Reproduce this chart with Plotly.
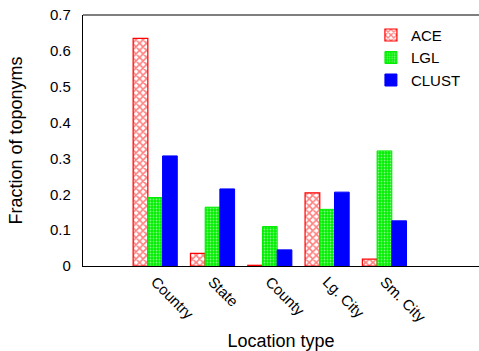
import plotly.graph_objects as go

categories = ["Country", "State", "County", "Lg. City", "Sm. City"]
ace = [0.635, 0.035, 0.002, 0.204, 0.019]
lgl = [0.191, 0.164, 0.110, 0.158, 0.321]
clust = [0.307, 0.215, 0.045, 0.206, 0.126]
y_ticks = [0, 0.1, 0.2, 0.3, 0.4, 0.5, 0.6, 0.7]

font = "Liberation Sans, Arial, Helvetica, sans-serif"

fig = go.Figure()
fig.add_trace(go.Bar(
    name="ACE", x=categories, y=ace,
    marker=dict(color="white", line=dict(color="#ff0000", width=1.2),
                pattern=dict(shape="x", fgcolor="#ff0000", bgcolor="white",
                             size=5, solidity=0.55)),
))
fig.add_trace(go.Bar(
    name="LGL", x=categories, y=lgl,
    marker=dict(color="#00ee00", line=dict(color="#00ee00", width=1),
                pattern=dict(shape=".", fgcolor="white", bgcolor="#00ee00",
                             size=3, solidity=0.3)),
))
fig.add_trace(go.Bar(
    name="CLUST", x=categories, y=clust,
    marker=dict(color="#0000ff", line=dict(color="#0000ff", width=1)),
))

fig.update_layout(
    width=479, height=351,
    margin=dict(l=83, r=0, t=15, b=85, autoexpand=False),
    paper_bgcolor="white", plot_bgcolor="white",
    barmode="group", bargap=0.23, bargroupgap=0,
    font=dict(family=font, size=15, color="black"),
    showlegend=True,
    legend=dict(x=0.967, y=0.985, xanchor="right", yanchor="top",
                font=dict(size=15), bgcolor="rgba(0,0,0,0)",
                tracegroupgap=0, itemwidth=30),
    xaxis=dict(
        type="category", range=[-1.26, 5.65], automargin=False,
        tickangle=45, showline=True, linecolor="black", linewidth=1.2,
        showgrid=False, zeroline=False, ticks="",
        title=dict(text="Location type", standoff=16),
        tickfont=dict(size=15),
    ),
    yaxis=dict(
        range=[0, 0.7], tickvals=y_ticks, automargin=False,
        ticktext=[("%g" % v) for v in y_ticks],
        showline=True, linecolor="black", linewidth=1.2,
        showgrid=False, zeroline=False, ticks="",
        ticklabelstandoff=8,
        title=dict(text="Fraction of toponyms", standoff=22),
        tickfont=dict(size=15),
    ),
    shapes=[dict(type="line", xref="paper", yref="paper", x0=0, x1=1, y0=1, y1=1,
                 line=dict(color="black", width=1.2))],
)

fig.write_html("out.html",
               config={"displayModeBar": False},
               post_script="document.body.style.margin='0px';document.body.style.overflow='hidden';")
